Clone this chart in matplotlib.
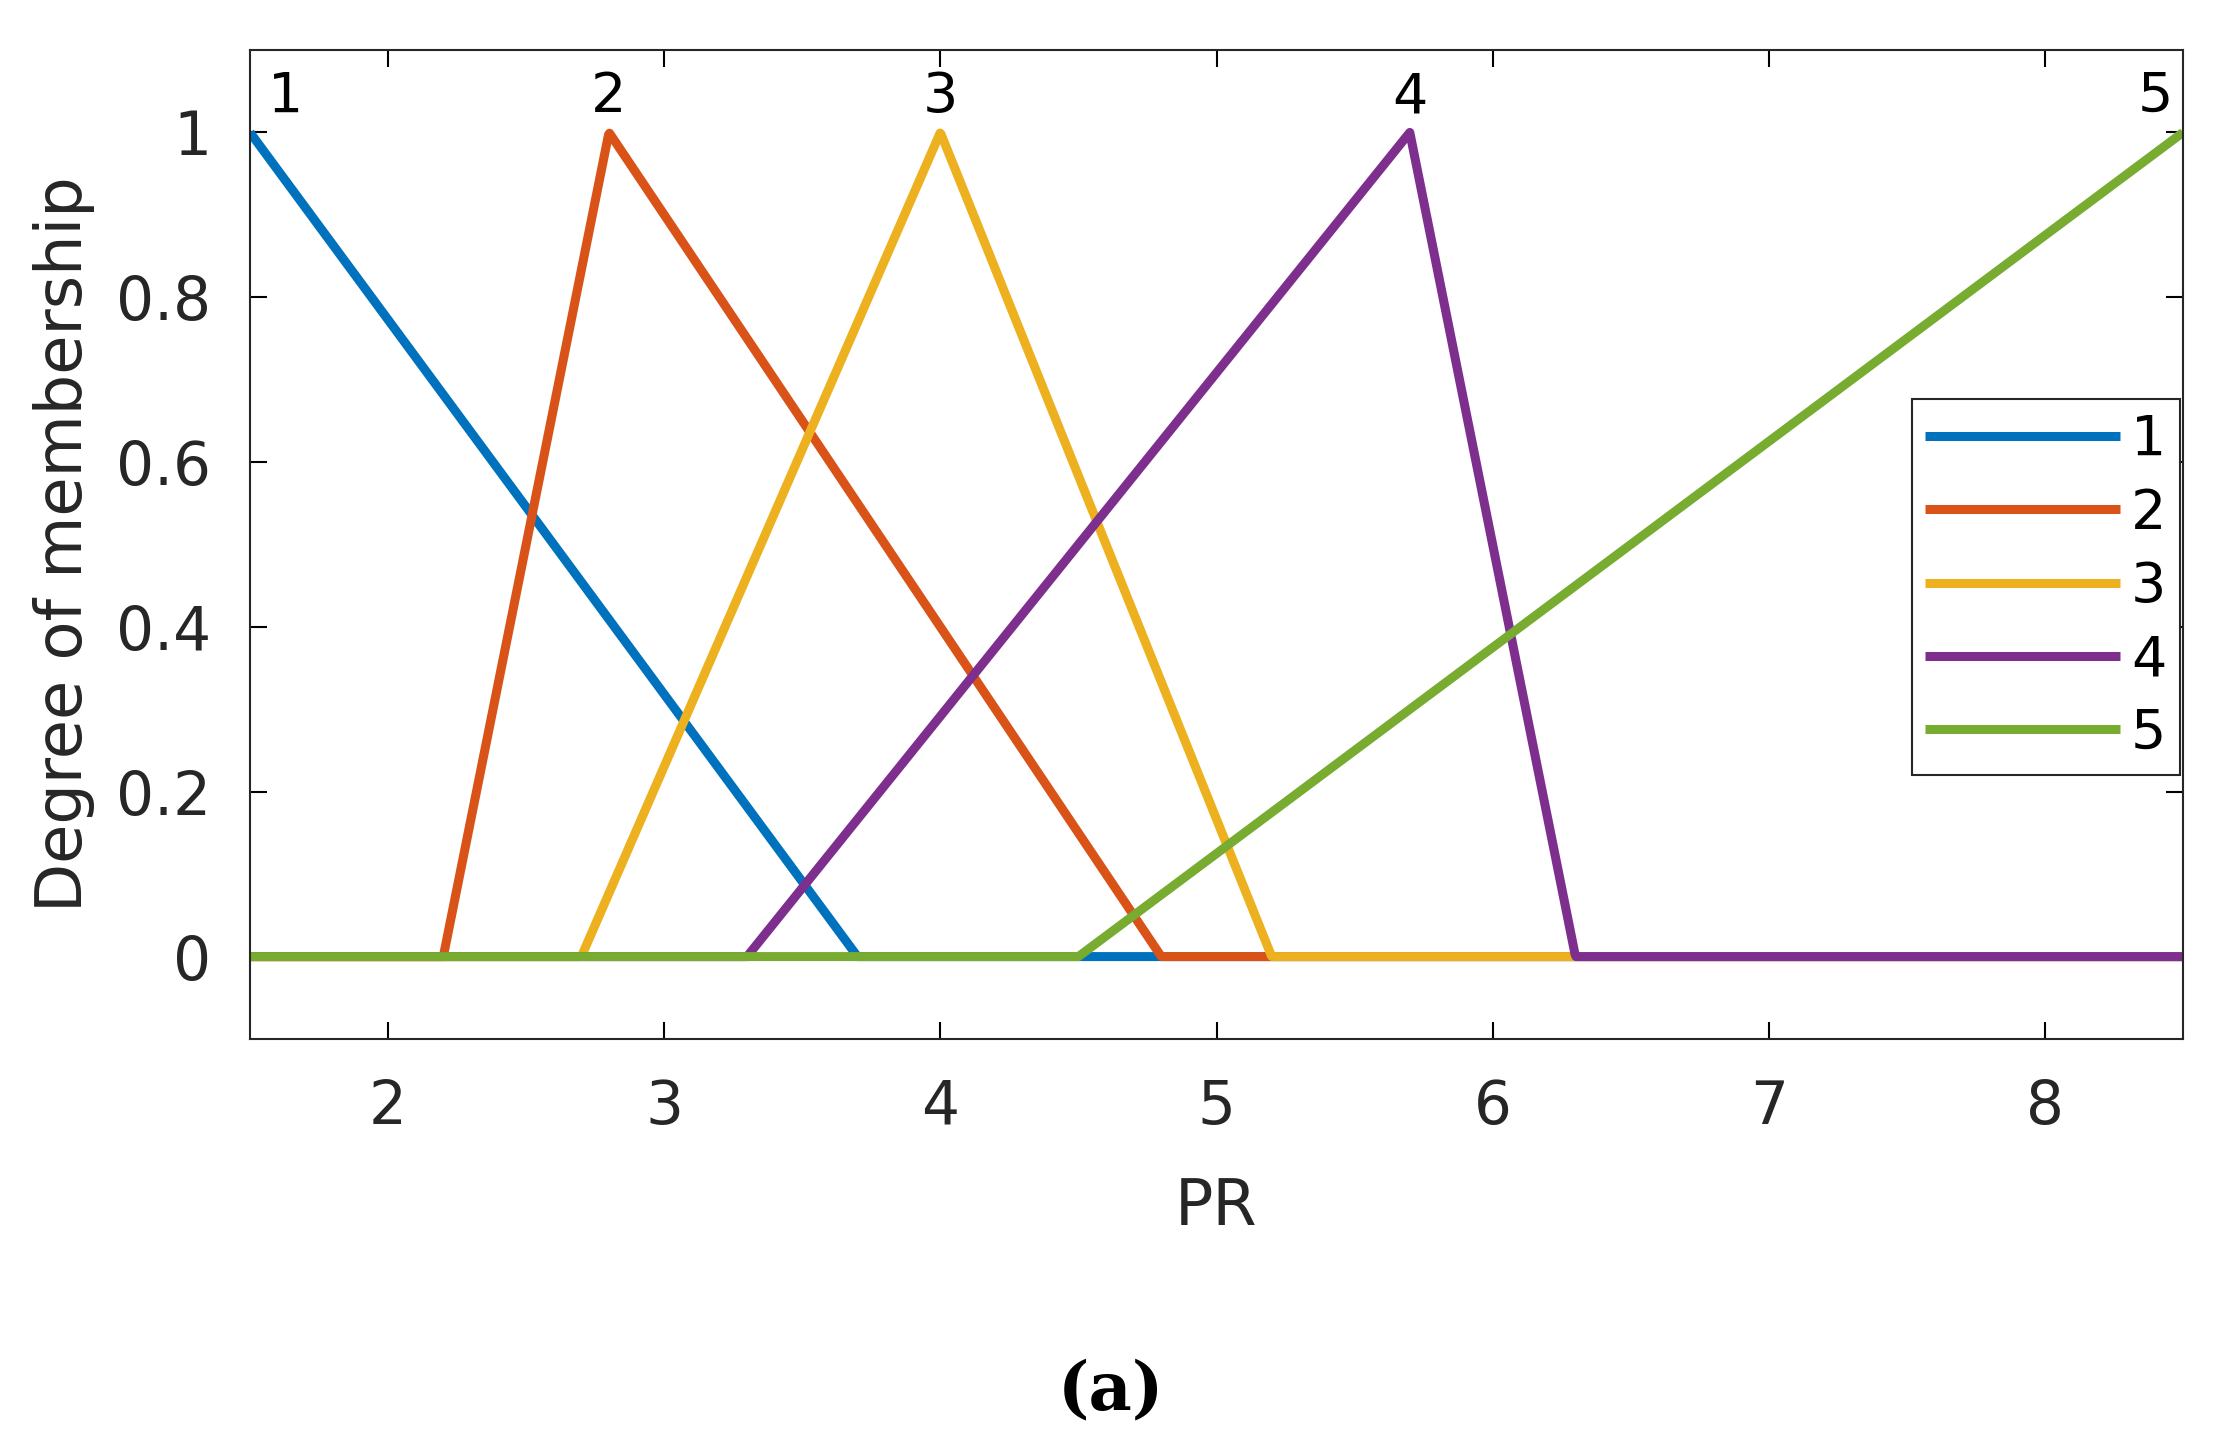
import numpy as np
import matplotlib
matplotlib.use("Agg")
import matplotlib.pyplot as plt

names = ["1", "2", "3", "4", "5"]
params = [[0.0, 1.5, 3.7], [2.2, 2.8, 4.8], [2.7, 4.0, 5.2], [3.3, 5.7, 6.3], [4.5, 8.5, 12.5]]
colors = ["#0072BD", "#D95319", "#EDB120", "#7E2F8E", "#77AC30"]
xticks = [2, 3, 4, 5, 6, 7, 8]
yticks = [0, 0.2, 0.4, 0.6, 0.8, 1]

def trimf(x, a, b, c):
    return np.maximum(np.minimum((x - a) / (b - a), (c - x) / (c - b)), 0)

x = np.linspace(1.5, 8.5, 2001)
fig = plt.figure(figsize=(22.21, 14.55), dpi=100)
ax = fig.add_axes([250/2221, 1 - 1039/1455, (2183-250)/2221, (1039-50)/1455])
for n, p, c in zip(names, params, colors):
    ax.plot(x, trimf(x, *p), color=c, lw=6.5, label=n, solid_capstyle='butt')
    ax.text(min(max(p[1], 1.63), 8.4), 1.01, n, ha='center', va='bottom', fontsize=40, color='black')
ax.set_xlim(1.5, 8.5)
ax.set_ylim(-0.1, 1.1)
ax.set_xticks(xticks)
ax.set_yticks(yticks)
ax.set_yticklabels(["0", "0.2", "0.4", "0.6", "0.8", "1"])
ax.tick_params(direction='in', top=True, right=True, length=12, width=1.5, labelsize=43, labelcolor='#262626', pad=28)
for s in ax.spines.values():
    s.set_linewidth(1.5)
    s.set_color('#262626')
ax.set_xlabel("PR", fontsize=46, color='#262626', labelpad=28)
ax.set_ylabel("Degree of membership", fontsize=46, color='#262626', labelpad=15)
leg = ax.legend(loc='center right', bbox_to_anchor=(1.0, 0.457), fontsize=40, fancybox=False, framealpha=1,
                edgecolor='#262626', handlelength=3.5, borderpad=0.25, labelspacing=0.35, handletextpad=0.2, borderaxespad=0.05)
leg.get_frame().set_linewidth(1.5)
fig.text(0.5, 1 - 1391/1455, "(a)", ha='center', va='center', fontsize=48, fontweight='bold', family='DejaVu Serif')
fig.savefig("out.png", dpi=100)
